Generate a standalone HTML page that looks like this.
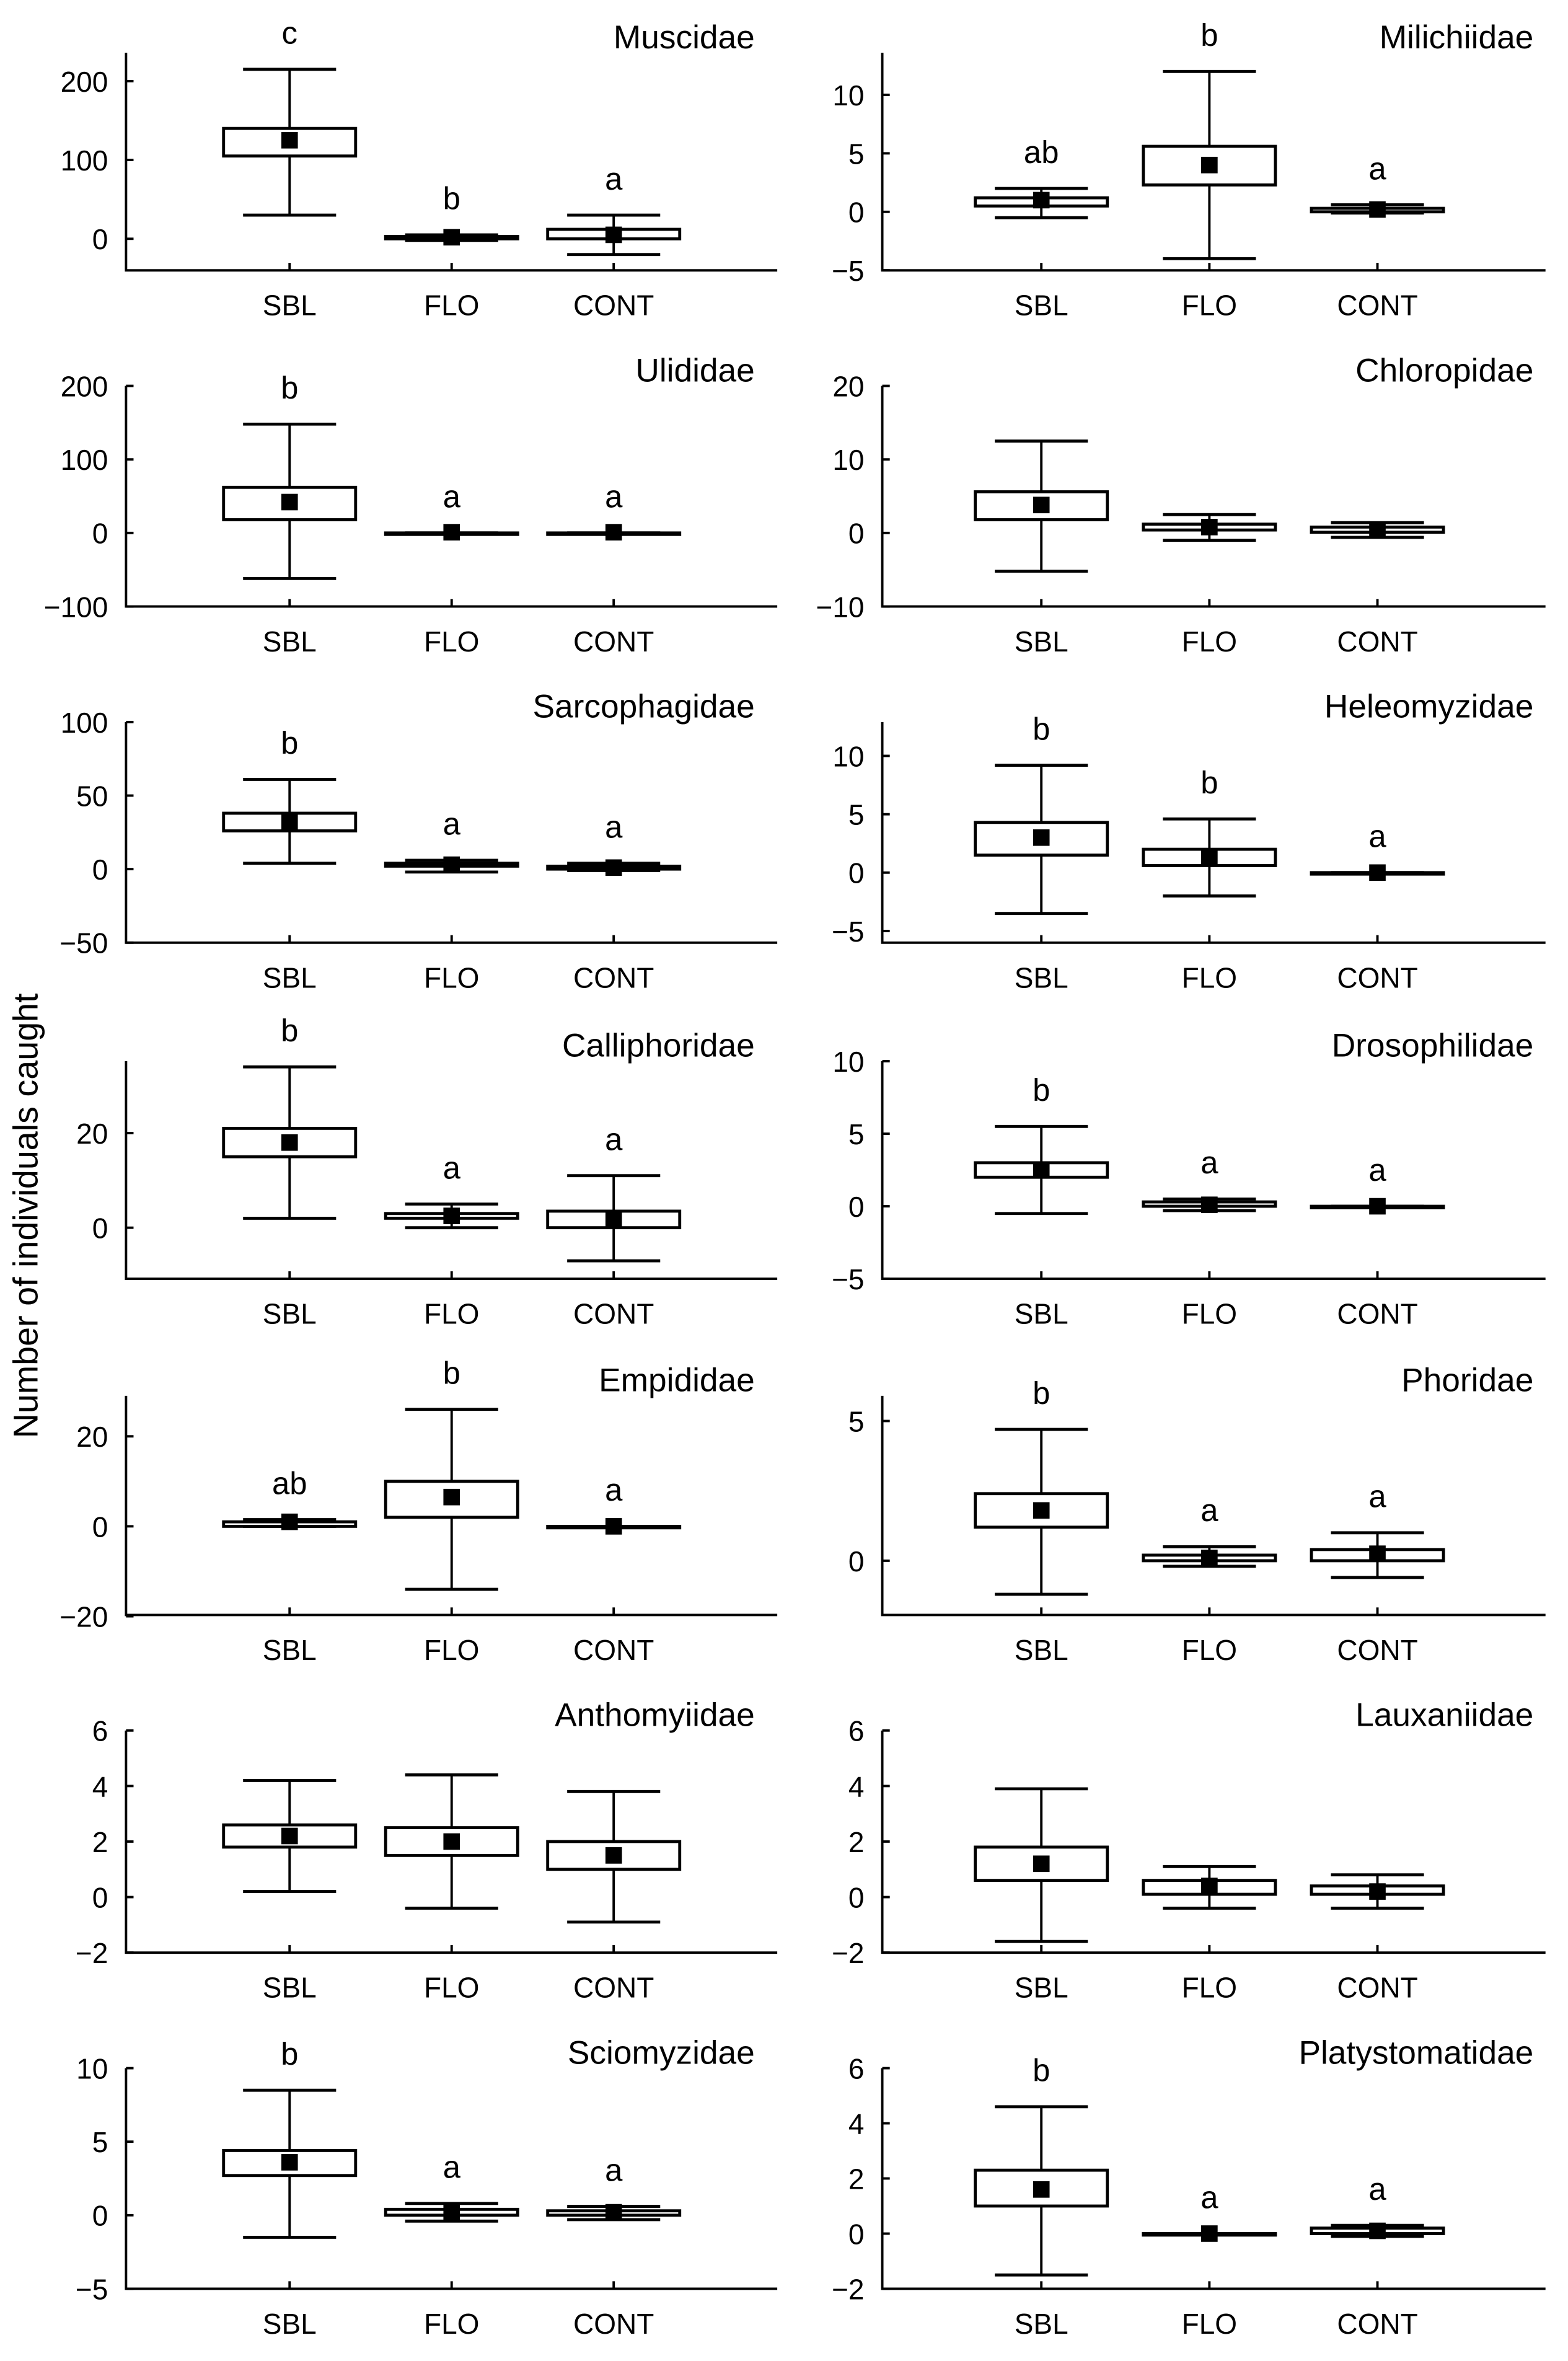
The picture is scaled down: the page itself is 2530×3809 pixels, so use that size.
<!DOCTYPE html>
<html><head><meta charset="utf-8"><style>
html,body{margin:0;padding:0;background:#fff;}
svg{display:block;}
text{font-family:"Liberation Sans",sans-serif;fill:#000;}
</style></head><body>
<svg id="c" width="2530" height="3809" viewBox="0 0 1045 1573" xmlns="http://www.w3.org/2000/svg">
<text transform="translate(25,810) rotate(-90)" text-anchor="middle" font-size="23">Number of  individuals caught</text>
</svg>
<script>
const families = ["Muscidae","Milichiidae","Ulididae","Chloropidae","Sarcophagidae","Heleomyzidae","Calliphoridae","Drosophilidae","Empididae","Phoridae","Anthomyiidae","Lauxaniidae","Sciomyzidae","Platystomatidae"];
const categories = ["SBL","FLO","CONT"];
const domains = [[-40,236],[-5,13.6],[-100,200],[-10,20],[-50,100],[-6,12.9],[-10.8,35.2],[-5,10],[-19.7,29],[-1.94,5.9],[-2,6],[-2,6],[-5,10],[-2,6]];
const ticks = [[0,100,200],[-5,0,5,10],[-100,0,100,200],[-10,0,10,20],[-50,0,50,100],[-5,0,5,10],[0,20],[-5,0,5,10],[-20,0,20],[0,5],[-2,0,2,4,6],[-2,0,2,4,6],[-5,0,5,10],[-2,0,2,4,6]];
// each category: [whiskerLow, boxLow, mean, boxHigh, whiskerHigh]
const stats = [
 [[30,105,125,140,215],[-2,0,2,3,5],[-20,0,5,12,30]],
 [[-0.5,0.5,1,1.2,2],[-4,2.3,4,5.6,12],[-0.1,0,0.2,0.3,0.6]],
 [[-62,18,42,62,148],[0,0,1,0,0],[0,0,1,0,0]],
 [[-5.2,1.8,3.8,5.6,12.5],[-1,0.4,0.8,1.2,2.5],[-0.6,0.1,0.4,0.8,1.4]],
 [[4,26,32,38,61],[-2,2,3,4,6],[-1,0,1,2,4]],
 [[-3.5,1.5,3,4.3,9.2],[-2,0.6,1.2,2,4.6],[0,0,0,0,0]],
 [[2,15,18,21,34],[0,2,2.5,3,5],[-7,0,1.5,3.5,11]],
 [[-0.5,2,2.5,3,5.5],[-0.3,0,0.1,0.3,0.5],[0,0,0,0,0]],
 [[0,0,1,1,1.5],[-14,2,6.5,10,26],[0,0,0,0,0]],
 [[-1.2,1.2,1.8,2.4,4.7],[-0.2,0,0.1,0.2,0.5],[-0.6,0,0.25,0.4,1]],
 [[0.2,1.8,2.2,2.6,4.2],[-0.4,1.5,2,2.5,4.4],[-0.9,1,1.5,2,3.8]],
 [[-1.6,0.6,1.2,1.8,3.9],[-0.4,0.1,0.4,0.6,1.1],[-0.4,0.1,0.2,0.4,0.8]],
 [[-1.5,2.7,3.6,4.4,8.5],[-0.4,0,0.2,0.4,0.8],[-0.3,0,0.2,0.3,0.6]],
 [[-1.5,1,1.6,2.3,4.6],[0,0,0,0,0],[-0.1,0,0.1,0.2,0.3]]
];
const letters = [["c","b","a"],["ab","b","a"],["b","a","a"],["","",""],["b","a","a"],["b","b","a"],["b","a","a"],["b","a","a"],["ab","b","a"],["b","a","a"],["","",""],["","",""],["b","a","a"],["b","a","a"]];

const NS="http://www.w3.org/2000/svg";
const svg=document.getElementById('c');
const rowTops=[35,257,481,707,930,1153,1378];
const rowBots=[180,404,628,852,1076,1301,1525];
function mk(tag,attrs,parent){const e=document.createElementNS(NS,tag);for(const k in attrs)e.setAttribute(k,attrs[k]);parent.appendChild(e);return e;}

families.forEach((fam,i)=>{
  const row=Math.floor(i/2), col=i%2;
  const top=rowTops[row], bot=rowBots[row];
  const x0=col?588:84, x1=col?1030:518;
  const cx=col?[694,806,918]:[193,301,409];
  const [dmin,dmax]=domains[i];
  const y=v=>bot-(v-dmin)/(dmax-dmin)*(bot-top);
  const g=mk('g',{},svg);
  
  
  const ax=mk('path',{d:`M${x0},${top} L${x0},${bot} L${x1},${bot}`,fill:'none',stroke:'#000','stroke-width':1.6},g);
  
  
  ticks[i].forEach(t=>{
    const yy=y(t);
    const tk=mk('line',{x1:x0,x2:x0+5,y1:yy,y2:yy,stroke:'#000','stroke-width':1.6},g);
    
    
    const tl=mk('text',{x:x0-12,y:yy+7,'text-anchor':'end','font-size':19},g);
    tl.textContent=t<0?'\u2212'+(-t):String(t);
    
    
  });
  const tt=mk('text',{x:col?1022:503,y:top-3,'text-anchor':'end','font-size':22},g);
  tt.textContent=fam;
  
  
  categories.forEach((cat,j)=>{
    const c=cx[j];
    const tk=mk('line',{x1:c,x2:c,y1:bot,y2:bot-5,stroke:'#000','stroke-width':1.6},g);
    
    
    const cl=mk('text',{x:c,y:bot+30,'text-anchor':'middle','font-size':19},g);
    cl.textContent=cat;
    
    
    const s=stats[i][j];
    const bg=mk('g',{},g);
    
    
    const hw=44, cw=31;
    mk('line',{x1:c,x2:c,y1:y(s[0]),y2:y(s[4]),stroke:'#000','stroke-width':1.6},bg);
    mk('line',{x1:c-cw,x2:c+cw,y1:y(s[0]),y2:y(s[0]),stroke:'#000','stroke-width':2},bg);
    mk('line',{x1:c-cw,x2:c+cw,y1:y(s[4]),y2:y(s[4]),stroke:'#000','stroke-width':2},bg);
    const by=y(s[3]), bh=Math.max(y(s[1])-y(s[3]),1);
    mk('rect',{x:c-hw,y:by,width:2*hw,height:bh,fill:'#fff',stroke:'#000','stroke-width':2},bg);
    const m=mk('rect',{x:c-5.5,y:y(s[2])-5.5,width:11,height:11,fill:'#000'},bg);
    
    
    if(letters[i][j]){
      const lt=mk('text',{x:c,y:y(s[4])-17,'text-anchor':'middle','font-size':21},g);
      lt.textContent=letters[i][j];
      
      
    }
  });
});
</script>
</body></html>
